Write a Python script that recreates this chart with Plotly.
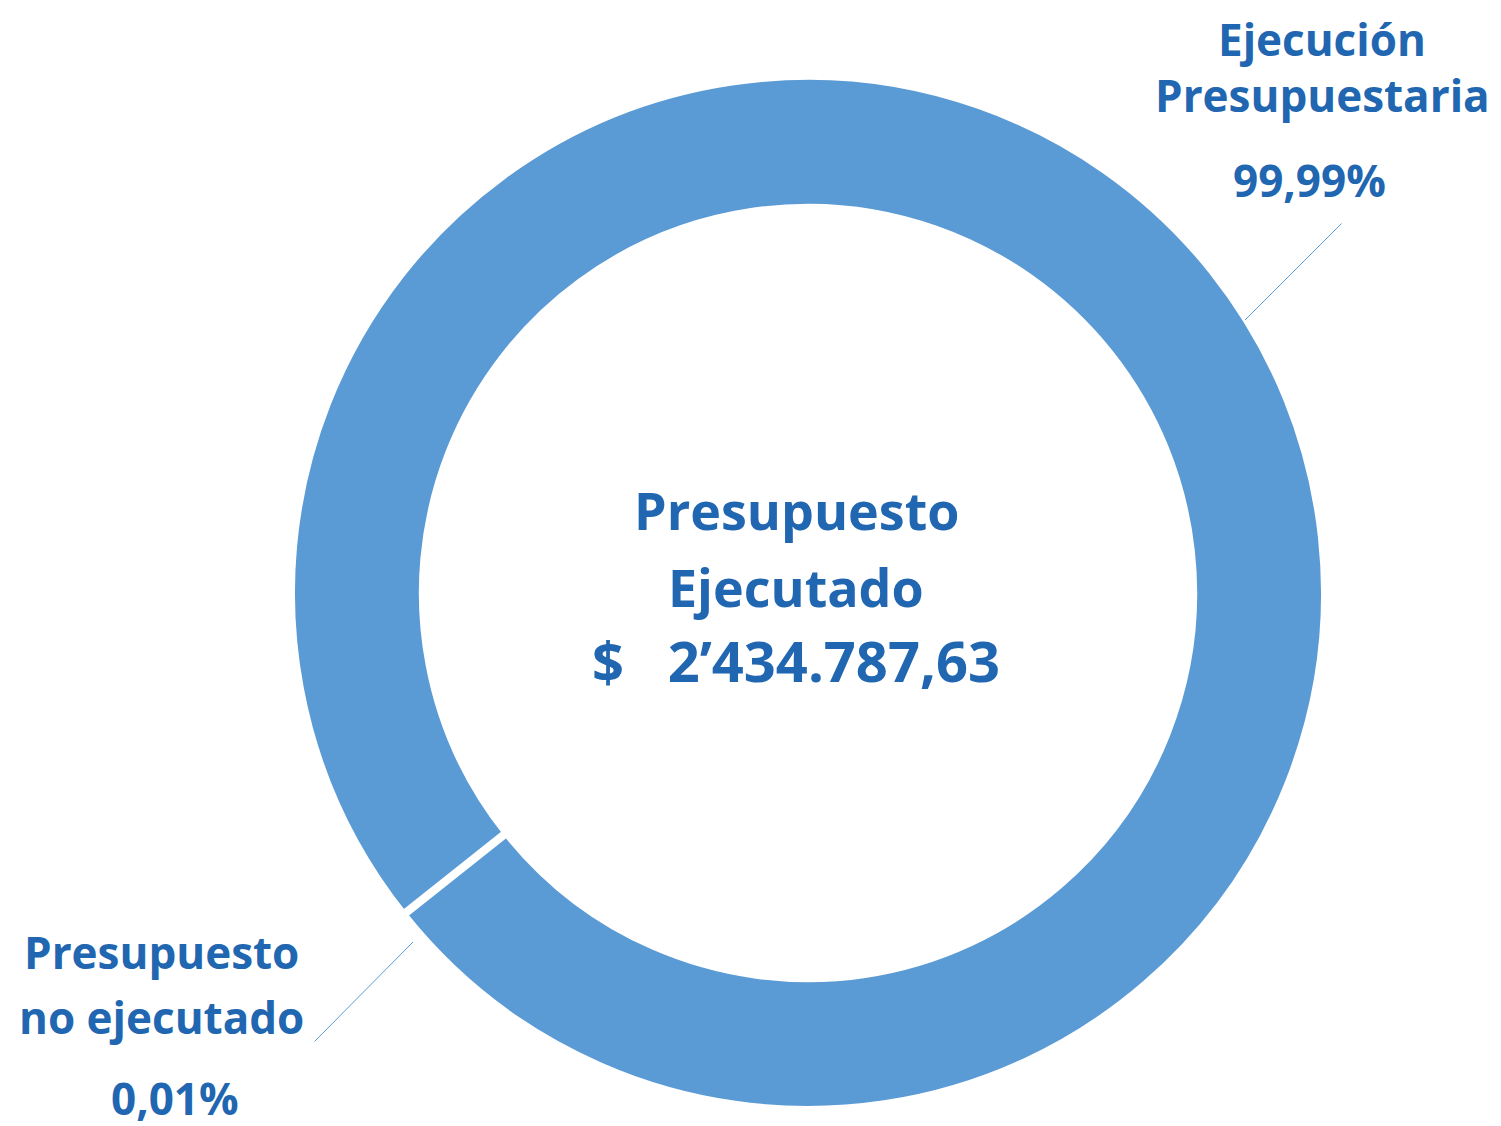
import plotly.graph_objects as go

# Data
labels = ["Presupuesto no ejecutado", "Ejecución Presupuestaria"]
values = [0.01, 99.99]
label_lines = [["Presupuesto", "no ejecutado"], ["Ejecución", "Presupuestaria"]]
pct_text = ["0,01%", "99,99%"]
center_lines = ["Presupuesto", "Ejecutado", "$   2’434.787,63"]

W, H = 1501, 1126
OFF = 8  # page body margin
ring_color = "#5B9BD5"
text_color = "#2166B0"
font_family = "Open Sans"

cx, cy, r = 808, 593, 517


def px(x):
    return (x - OFF) / W


def py(y):
    return (H - (y - OFF)) / H


fig = go.Figure()
fig.add_trace(
    go.Pie(
        labels=labels,
        values=values,
        sort=False,
        direction="clockwise",
        rotation=231.5,
        hole=0.745,
        marker=dict(colors=[ring_color, ring_color], line=dict(color="white", width=8)),
        textinfo="none",
        hoverinfo="label+percent",
        showlegend=False,
        domain=dict(x=[px(cx - r), px(cx + r)], y=[py(cy + r), py(cy - r)]),
    )
)

annotations = []

# Center text
for text, y, size in zip(center_lines, [510, 587, 660], [52, 52, 56]):
    annotations.append(
        dict(x=px(796), y=py(y), text=f"<b>{text}</b>", showarrow=False,
             xref="paper", yref="paper", xanchor="center", yanchor="middle",
             font=dict(family=font_family, size=size, color=text_color))
    )

# Outside labels
label_pos = [
    dict(x=161, ys=[952, 1017], pct_x=175, pct_y=1098),
    dict(x=1322, ys=[39, 95], pct_x=1309, pct_y=180),
]
for lines, pct, pos in zip(label_lines, pct_text, label_pos):
    for text, y in zip(lines, pos["ys"]):
        annotations.append(
            dict(x=px(pos["x"]), y=py(y), text=f"<b>{text}</b>", showarrow=False,
                 xref="paper", yref="paper", xanchor="center", yanchor="middle",
                 borderpad=0, font=dict(family=font_family, size=44, color=text_color))
        )
    annotations.append(
        dict(x=px(pos["pct_x"]), y=py(pos["pct_y"]), text=f"<b>{pct}</b>", showarrow=False,
             xref="paper", yref="paper", xanchor="center", yanchor="middle",
             borderpad=0, font=dict(family=font_family, size=44, color=text_color))
    )

# Leader lines
for tip, tail in [((413, 942), (313, 1043)), ((1245, 320), (1343, 222))]:
    annotations.append(
        dict(x=px(tip[0]), y=py(tip[1]), xref="paper", yref="paper", text="",
             showarrow=True, arrowhead=0, arrowwidth=1, arrowcolor=ring_color,
             ax=tail[0] - tip[0], ay=tail[1] - tip[1], standoff=0, startstandoff=0)
    )

fig.update_layout(
    width=W,
    height=H,
    margin=dict(l=0, r=0, t=0, b=0),
    paper_bgcolor="white",
    plot_bgcolor="white",
    annotations=annotations,
)

fig.write_html("out.html")
